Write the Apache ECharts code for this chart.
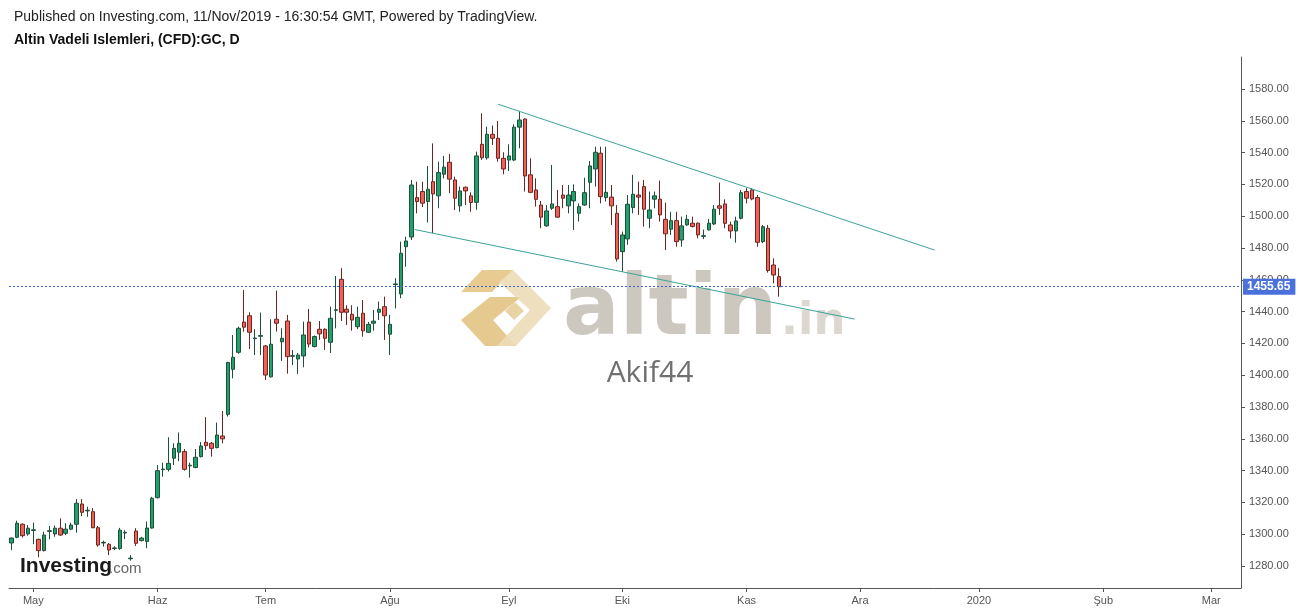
<!DOCTYPE html>
<html>
<head>
<meta charset="utf-8">
<script src="https://cdn.jsdelivr.net/npm/echarts@6/dist/echarts.min.js"></script>
<style>
html,body{margin:0;padding:0;background:#fff;}
#chart{width:1299px;height:612px;}
</style>
</head>
<body>
<div id="chart"></div>
<script>
// ---- categories (trading days) ----
const START_DATE = '2019-04-25';
const END_DATE = '2020-03-09';
const monthStarts = ['2019-05-01','2019-06-03','2019-07-01','2019-08-01','2019-09-02','2019-10-01','2019-11-01','2019-12-02','2020-01-01','2020-02-03','2020-03-02'];
const monthLabels = ['May','Haz','Tem','Ağu','Eyl','Eki','Kas','Ara','2020','Şub','Mar'];
const yTicks = [1280,1300,1320,1340,1360,1380,1400,1420,1440,1460,1480,1500,1520,1540,1560,1580];

// ---- OHLC values, one per trading day from START_DATE ----
const opens = [
1294.5,1298.1,1306.3,1300.2,1302.4,1296.8,1289.7,1301.8,1300.2,1303.8,1300.6,1303.2,1306.3,1319.0,1314.7,1314.2,1304.1,1294.5,1293.7,1291.0,1291.0,1300.8,1284.6,1302.0,1296.0,1295.5,1303.9,
1323.0,1340.6,1340.8,1347.8,1351.6,1352.0,1343.0,1342.0,1348.8,1357.8,1357.2,1354.5,1361.8,1375.4,
1403.7,1414.4,1433.4,1437.4,1423.0,1424.5,1418.4,1399.0,1435.2,1421.0,1434.1,1411.9,1410.2,1412.1,1433.4,1418.0,1428.9,1428.9,1420.7,1440.8,1460.3,1441.5,1438.3,1430.5,1439.0,1427.0,1432.7,1439.6,1443.1,1425.8,1457.0,
1451.1,1480.8,1486.9,1511.7,1515.5,1509.2,1521.7,1512.8,1526.4,1533.9,1522.8,1506.5,1518.2,1512.8,1508.7,1545.2,1536.7,1551.5,1549.0,1536.4,1535.3,1535.3,1556.0,1561.1,1526.0,1516.5,1507.0,1493.9,1505.0,1506.0,1513.3,1506.5,1509.6,1501.8,1507.0,1521.3,1529.7,1539.6,1511.7,1512.0,1501.8,1477.7,1485.7,1505.4,
1513.3,1518.6,1498.7,1510.7,1510.7,1498.0,1491.8,1497.2,1485.0,1494.5,1495.6,1495.6,1487.3,1491.4,1495.1,1506.5,1507.7,1494.5,1490.7,1498.7,1515.5,1516.5,1511.7,1484.0,1492.4,1469.3,1462.0
];
const closes = [
1297.6,1306.9,1299.1,1303.8,1302.8,1289.7,1299.5,1302.2,1303.8,1299.5,1303.2,1305.8,1319.5,1313.8,1315.1,1304.1,1293.2,1294.9,1290.1,1291.4,1302.6,1301.2,1285.0,1294.3,1297.6,1303.9,1322.6,
1340.0,1341.0,1344.6,1354.0,1357.2,1340.8,1343.4,1348.4,1355.5,1355.7,1354.0,1362.4,1360.0,1408.0,
1411.3,1429.5,1430.2,1427.0,1423.4,1424.9,1400.1,1419.5,1432.7,1423.2,1411.7,1412.3,1412.7,1425.3,1419.6,1424.3,1426.0,1423.2,1435.8,1441.2,1439.6,1439.6,1434.7,1436.4,1427.9,1432.0,1434.0,1441.5,1437.4,1432.0,1457.4,
1476.7,1484.4,1519.6,1509.2,1508.2,1516.9,1514.0,1527.4,1530.8,1523.3,1511.3,1515.9,1515.9,1508.6,1537.9,1536.7,1551.5,1549.0,1536.4,1529.7,1537.9,1556.0,1560.5,1525.3,1515.0,1510.6,1499.4,1503.3,1507.7,1499.4,1511.3,1513.3,1515.5,1506.0,1514.8,1531.6,1540.2,1512.3,1515.0,1506.5,1473.1,1488.2,1507.5,1513.8,
1512.0,1504.4,1503.9,1512.8,1500.8,1488.9,1497.2,1484.0,1493.9,1498.0,1493.5,1488.2,1487.7,1495.6,1504.4,1505.0,1495.5,1490.7,1497.0,1514.8,1511.3,1510.8,1483.6,1493.4,1465.8,1463.0,1455.65
];
const lows = [
1290.0,1297.5,1298.0,1299.1,1293.8,1285.5,1289.2,1296.8,1298.4,1299.0,1299.5,1302.6,1301.0,1311.4,1311.0,1303.8,1292.2,1292.2,1286.9,1290.0,1290.2,1297.0,1283.4,1292.7,1295.5,1291.2,1303.5,
1322.5,1336.2,1339.5,1343.5,1346.0,1340.0,1335.6,1341.5,1348.3,1353.0,1348.8,1354.0,1357.2,1374.0,
1398.0,1413.5,1427.4,1416.5,1412.7,1412.7,1397.0,1398.5,1427.4,1409.0,1401.0,1406.4,1400.8,1405.0,1417.5,1417.5,1422.2,1415.9,1414.0,1429.5,1434.1,1431.6,1428.0,1429.0,1424.2,1426.5,1428.0,1434.7,1422.2,1412.7,1442.0,
1448.4,1468.2,1485.0,1501.8,1505.7,1496.0,1489.3,1505.0,1523.8,1514.5,1503.9,1502.8,1507.0,1502.8,1504.0,1535.4,1535.5,1544.8,1534.3,1526.3,1528.4,1534.8,1542.7,1515.5,1514.5,1506.0,1492.4,1493.4,1503.9,1499.0,1505.0,1501.8,1491.3,1496.6,1506.5,1505.0,1518.6,1508.1,1509.2,1494.5,1471.4,1465.0,1482.0,1501.8,
1500.8,1493.4,1492.4,1505.0,1496.6,1478.7,1488.2,1480.8,1480.8,1494.0,1493.0,1486.1,1485.6,1491.0,1494.5,1500.8,1492.4,1486.0,1483.4,1498.0,1508.0,1510.0,1480.8,1483.0,1464.5,1457.8,1449.4
];
const highs = [
1298.0,1308.5,1306.9,1305.8,1307.3,1297.2,1301.6,1305.2,1305.5,1310.0,1306.9,1307.3,1322.1,1322.1,1317.3,1316.5,1305.2,1296.0,1294.5,1292.5,1304.0,1302.5,1286.9,1303.8,1298.4,1308.0,1323.5,
1343.5,1345.0,1361.0,1357.2,1364.0,1353.6,1345.0,1353.6,1358.0,1373.6,1358.0,1370.2,1377.5,1408.5,
1425.3,1430.5,1453.6,1439.6,1428.9,1439.4,1419.0,1435.2,1453.2,1429.5,1437.9,1415.9,1414.0,1433.7,1441.6,1425.0,1434.1,1429.5,1443.1,1462.4,1467.3,1444.0,1444.0,1443.1,1447.3,1433.5,1441.0,1446.3,1449.4,1437.9,1461.0,
1484.0,1487.1,1522.8,1521.7,1521.7,1531.6,1545.8,1534.3,1537.9,1539.1,1524.9,1518.6,1518.6,1515.0,1540.6,1564.7,1556.3,1557.0,1559.9,1540.2,1545.2,1557.8,1566.2,1561.5,1536.4,1523.8,1509.6,1507.0,1532.2,1516.5,1519.6,1519.6,1520.0,1508.0,1524.2,1534.7,1543.7,1543.7,1543.7,1519.6,1507.0,1490.3,1513.3,1526.0,
1521.7,1522.8,1515.5,1515.5,1522.4,1508.5,1502.8,1502.8,1499.7,1500.8,1499.7,1496.0,1491.6,1498.3,1507.0,1521.1,1510.6,1496.6,1499.7,1516.5,1517.6,1517.6,1513.3,1494.5,1494.5,1473.5,1467.3
];
const lastPrice = 1455.65;
// trend lines: [bar index, price]
const upperTrend = [[90.0, 1570.4], [170.8, 1478.7]];
const lowerTrend = [[74.6, 1491.6], [156.0, 1435.3]];

function weekdays(a, b) {
  const out = [];
  let d = new Date(a + 'T00:00:00Z');
  const e = new Date(b + 'T00:00:00Z');
  while (d <= e) {
    const w = d.getUTCDay();
    if (w !== 0 && w !== 6) out.push(d.toISOString().slice(0, 10));
    d = new Date(d.getTime() + 86400000);
  }
  return out;
}
const dates = weekdays(START_DATE, END_DATE);
const ohlc = opens.map((o, i) => [o, closes[i], lows[i], highs[i]]);
const isMonthStart = (i, v) => monthStarts.indexOf(v) >= 0;

const chart = echarts.init(document.getElementById('chart'), null, {renderer: 'canvas'});
const axisGray = '#555';
const option = {
  animation: false,
  backgroundColor: '#fff',
  grid: {left: 9, right: 58, top: 57, bottom: 24, containLabel: false},
  xAxis: [{
    type: 'category',
    data: dates,
    boundaryGap: true,
    axisLine: {show: true, onZero: false, lineStyle: {color: axisGray, width: 1}},
    axisTick: {show: true, alignWithLabel: true, interval: isMonthStart, length: 4, lineStyle: {color: axisGray}},
    axisLabel: {
      interval: isMonthStart,
      formatter: v => monthLabels[monthStarts.indexOf(v)],
      color: '#555', fontSize: 11, margin: 7,
      fontFamily: '"Liberation Sans", Arial, sans-serif'
    },
    splitLine: {show: false}
  }, {
    type: 'value', show: false, min: -0.5, max: dates.length - 0.5,
    axisLine: {onZero: false}
  }],
  yAxis: {
    type: 'value',
    position: 'right',
    min: 1266.2, max: 1600.1,
    splitLine: {show: false},
    axisLine: {show: true, onZero: false, lineStyle: {color: axisGray, width: 1}},
    axisTick: {show: true, customValues: yTicks, length: 4, lineStyle: {color: axisGray}},
    axisLabel: {
      customValues: yTicks,
      formatter: v => Number(v).toFixed(2),
      color: '#555', fontSize: 11, margin: 8,
      fontFamily: '"Liberation Sans", Arial, sans-serif'
    }
  },
  series: [{
    type: 'candlestick',
    xAxisIndex: 0, yAxisIndex: 0,
    data: ohlc,
    barWidth: 4,
    itemStyle: {
      color: '#22a06c', color0: '#ef6158',
      borderColor: '#1e4f3a', borderColor0: '#6e2622', borderWidth: 1
    },
    markLine: {
      silent: true, symbol: 'none', animation: false,
      data: [{yAxis: lastPrice}],
      lineStyle: {color: '#3a62d4', type: [2, 2], width: 1},
      label: {
        show: true, position: 'end', distance: 2,
        formatter: () => lastPrice.toFixed(2),
        backgroundColor: '#4a70dc', color: '#fff',
        padding: [2, 5, 2, 4], fontSize: 12, fontWeight: 'bold',
        fontFamily: '"Liberation Sans", Arial, sans-serif'
      }
    },
    z: 3
  }, {
    type: 'line', xAxisIndex: 1, yAxisIndex: 0,
    data: upperTrend, symbol: 'none', silent: true,
    lineStyle: {color: '#3aa397', width: 1}, z: 4
  }, {
    type: 'line', xAxisIndex: 1, yAxisIndex: 0,
    data: lowerTrend, symbol: 'none', silent: true,
    lineStyle: {color: '#3aa397', width: 1}, z: 4
  }],
  graphic: [
    {type: 'text', x: 14, y: 17, z: 10, style: {text: 'Published on Investing.com, 11/Nov/2019 - 16:30:54 GMT, Powered by TradingView.', fill: '#222', font: '14px "Liberation Sans", Arial, sans-serif', textVerticalAlign: 'middle'}},
    {type: 'text', x: 14, y: 40, z: 10, style: {text: 'Altin Vadeli Islemleri, (CFD):GC, D', fill: '#111', font: 'bold 14px "Liberation Sans", Arial, sans-serif', textVerticalAlign: 'middle'}},
    // altin.in watermark logo
    {type: 'polygon', z: 0, shape: {points: [[482,270],[513,270],[492,292],[461,292]]}, style: {fill: 'rgba(226,190,118,0.8)'}},
    {type: 'polygon', z: 0, shape: {points: [[461,320],[490,297],[521,297],[493,320],[516,346],[485,346]]}, style: {fill: 'rgba(226,192,122,0.85)'}},
    {type: 'polygon', z: 0, shape: {points: [[513,270],[551,308],[516,346],[497,346],[530,310],[499,282]]}, style: {fill: 'rgba(236,220,184,0.9)'}},
    {type: 'polygon', z: 0, shape: {points: [[505,311],[515,302],[524,311],[514,320]]}, style: {fill: 'rgba(228,200,140,0.8)'}},
    {type: 'text', x: 563, y: 312, z: 0, style: {text: 'altin', fill: 'rgba(192,186,175,0.8)', font: 'bold 84px "DejaVu Sans", sans-serif', textVerticalAlign: 'middle'}},
    {type: 'text', x: 781, y: 322, z: 0, style: {text: '.in', fill: 'rgba(205,200,190,0.7)', font: 'bold 45px "DejaVu Sans", sans-serif', textVerticalAlign: 'middle'}},
    {type: 'text', x: 650, y: 373, z: 0, style: {text: 'Akif44', fill: '#707070', font: '30px "Open Sans", sans-serif', textAlign: 'center', textVerticalAlign: 'middle'}},
    // Investing.com logo
    {type: 'text', x: 20, y: 566, z: 10, style: {text: 'Investing', fill: '#1a1a1a', font: 'bold 21px "Liberation Sans", Arial, sans-serif', textVerticalAlign: 'middle'}},
    {type: 'text', x: 109, y: 569, z: 10, style: {text: '.com', fill: '#666', font: '15px "Liberation Sans", Arial, sans-serif', textVerticalAlign: 'middle'}}
  ]
};
chart.setOption(option);
</script>
</body>
</html>
